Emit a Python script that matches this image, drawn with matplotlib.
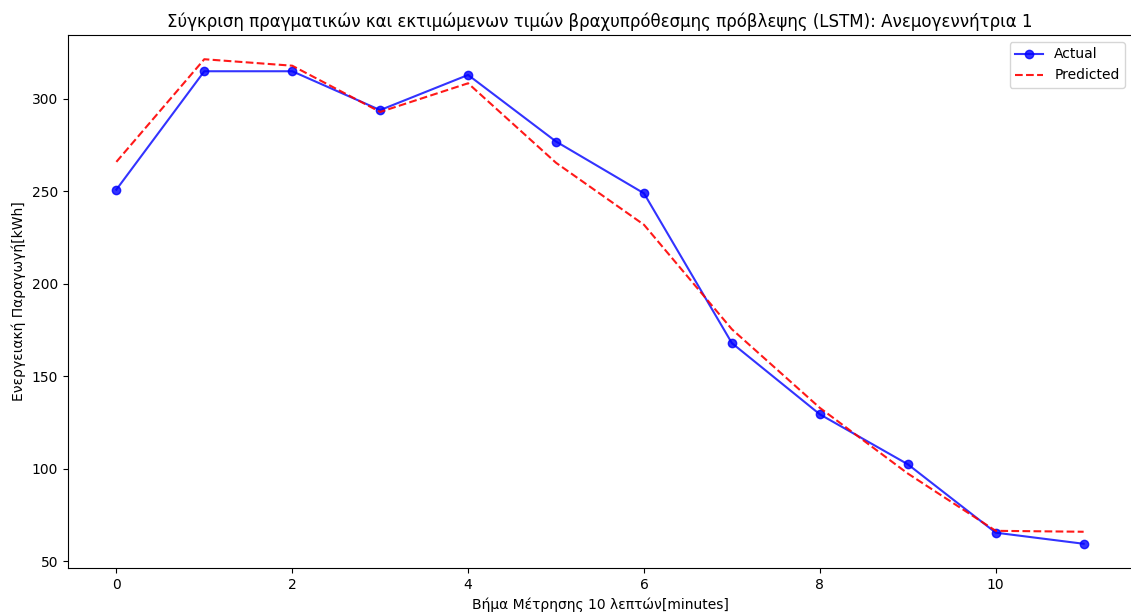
import matplotlib.pyplot as plt

# measured values (10-minute steps)
steps = list(range(12))
actual = [251, 315, 315, 294, 313, 277, 249, 168, 129.5, 102.5, 65.5, 59.5]
predicted = [266, 321.5, 318, 293, 308.5, 265.5, 232, 175.5, 133, 97.5, 66.5, 66]

fig = plt.figure(figsize=(11.31, 6.15), dpi=100)
ax = fig.add_axes([68 / 1131, 1 - 568 / 615, 1064 / 1131, 533 / 615])

ax.plot(steps, actual, 'b-o', alpha=0.8, label='Actual')
ax.plot(steps, predicted, 'r--', alpha=0.9, label='Predicted')

ax.set_title('Σύγκριση πραγματικών και εκτιμώμενων τιμών βραχυπρόθεσμης πρόβλεψης (LSTM): Ανεμογεννήτρια 1')
ax.set_xlabel('Βήμα Μέτρησης 10 λεπτών[minutes]')
ax.set_ylabel('Ενεργειακή Παραγωγή[kWh]')
ax.legend(loc='upper right')

fig.savefig('out.png', dpi=100)
